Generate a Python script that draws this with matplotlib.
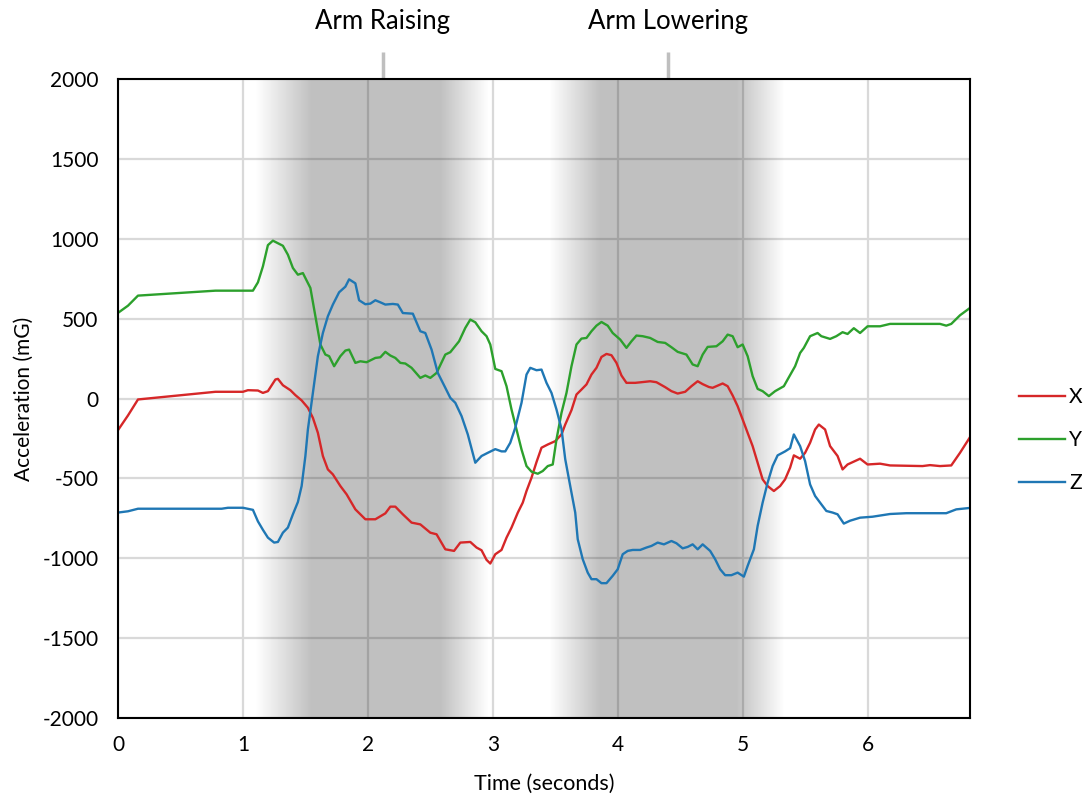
import numpy as np
import matplotlib.pyplot as plt

plt.rcParams['font.family'] = ['Lato', 'DejaVu Sans']
plt.rcParams['font.size'] = 16
plt.rcParams['axes.unicode_minus'] = False

# acceleration data (time in s, acceleration in mG)
x_time = [0, 0.08, 0.16, 0.78, 1.0, 1.04, 1.12, 1.16, 1.2, 1.26,
          1.28, 1.32, 1.38, 1.42, 1.47, 1.52, 1.56, 1.6, 1.64, 1.68,
          1.72, 1.78, 1.83, 1.9, 1.98, 2.06, 2.14, 2.18, 2.22, 2.28,
          2.35, 2.42, 2.5, 2.55, 2.62, 2.69, 2.74, 2.82, 2.87, 2.91,
          2.95, 2.98, 3.02, 3.07, 3.11, 3.15, 3.2, 3.24, 3.27, 3.31,
          3.35, 3.39, 3.44, 3.5, 3.55, 3.58, 3.63, 3.67, 3.71, 3.75,
          3.79, 3.83, 3.87, 3.91, 3.95, 3.99, 4.03, 4.07, 4.14, 4.19,
          4.26, 4.31, 4.38, 4.43, 4.48, 4.54, 4.59, 4.64, 4.68, 4.73,
          4.76, 4.84, 4.88, 4.92, 4.96, 5.0, 5.04, 5.08, 5.12, 5.16,
          5.2, 5.25, 5.3, 5.34, 5.38, 5.41, 5.46, 5.5, 5.54, 5.58,
          5.61, 5.66, 5.7, 5.76, 5.8, 5.84, 5.94, 6.0, 6.1, 6.18,
          6.44, 6.5, 6.58, 6.67, 6.74, 6.82]
x_acc = [-198, -106, -6, 42, 42, 52, 50, 35, 46, 119,
         123, 83, 52, 21, -12, -58, -121, -215, -360, -444,
         -475, -548, -600, -694, -756, -756, -719, -677, -677, -725,
         -777, -788, -840, -850, -944, -954, -902, -898, -933, -950,
         -1010, -1033, -975, -948, -871, -808, -715, -652, -579, -496,
         -398, -308, -288, -267, -225, -163, -73, 25, 56, 88,
         150, 192, 260, 279, 271, 223, 144, 98, 98, 102,
         108, 102, 71, 46, 31, 42, 77, 108, 90, 72,
         67, 94, 77, 19, -48, -131, -215, -298, -402, -506,
         -548, -579, -548, -506, -433, -356, -377, -340, -277, -194,
         -163, -194, -298, -360, -444, -413, -377, -413, -408, -419,
         -423, -417, -423, -419, -340, -242]

y_time = [0, 0.08, 0.16, 0.78, 1.08, 1.12, 1.16, 1.2, 1.24, 1.32,
          1.36, 1.4, 1.44, 1.48, 1.54, 1.58, 1.62, 1.66, 1.69, 1.73,
          1.78, 1.82, 1.85, 1.9, 1.94, 1.99, 2.06, 2.1, 2.14, 2.18,
          2.22, 2.26, 2.3, 2.35, 2.42, 2.46, 2.5, 2.55, 2.62, 2.66,
          2.73, 2.78, 2.82, 2.86, 2.91, 2.95, 2.98, 3.02, 3.07, 3.11,
          3.15, 3.19, 3.23, 3.27, 3.31, 3.36, 3.4, 3.44, 3.48, 3.51,
          3.55, 3.59, 3.63, 3.67, 3.71, 3.75, 3.79, 3.83, 3.87, 3.92,
          3.96, 4.02, 4.07, 4.11, 4.15, 4.2, 4.26, 4.32, 4.38, 4.43,
          4.48, 4.55, 4.6, 4.64, 4.68, 4.72, 4.79, 4.84, 4.88, 4.92,
          4.96, 5.0, 5.04, 5.08, 5.12, 5.16, 5.21, 5.26, 5.33, 5.36,
          5.42, 5.46, 5.49, 5.54, 5.6, 5.63, 5.7, 5.75, 5.8, 5.84,
          5.89, 5.94, 6.0, 6.1, 6.18, 6.58, 6.63, 6.67, 6.74, 6.82]
y_acc = [536, 581, 644, 675, 675, 727, 827, 960, 988, 956,
         900, 817, 775, 785, 692, 515, 338, 275, 265, 202,
         265, 300, 306, 223, 233, 227, 254, 258, 292, 269,
         254, 223, 219, 192, 129, 144, 129, 160, 275, 290,
         358, 442, 494, 477, 421, 390, 338, 185, 171, 77,
         -69, -194, -319, -423, -458, -471, -454, -423, -413, -256,
         -90, 35, 202, 338, 375, 379, 421, 456, 479, 456,
         410, 369, 317, 358, 394, 390, 379, 354, 348, 321,
         292, 275, 213, 202, 275, 323, 327, 358, 400, 390,
         321, 338, 265, 140, 60, 46, 15, 46, 77, 119,
         202, 285, 317, 390, 410, 390, 373, 390, 415, 404,
         440, 410, 452, 452, 467, 467, 456, 467, 521, 567]

z_time = [0, 0.08, 0.16, 0.83, 0.88, 1.0, 1.08, 1.12, 1.16, 1.2,
          1.25, 1.28, 1.32, 1.36, 1.4, 1.44, 1.47, 1.5, 1.52, 1.56,
          1.6, 1.64, 1.68, 1.72, 1.77, 1.82, 1.85, 1.9, 1.93, 1.98,
          2.02, 2.06, 2.1, 2.14, 2.2, 2.24, 2.28, 2.36, 2.42, 2.46,
          2.51, 2.56, 2.62, 2.66, 2.7, 2.75, 2.8, 2.86, 2.91, 2.96,
          3.02, 3.07, 3.1, 3.14, 3.18, 3.23, 3.27, 3.3, 3.35, 3.39,
          3.43, 3.47, 3.51, 3.55, 3.58, 3.62, 3.66, 3.68, 3.72, 3.76,
          3.79, 3.83, 3.87, 3.91, 3.96, 4.0, 4.04, 4.08, 4.12, 4.18,
          4.23, 4.27, 4.32, 4.37, 4.43, 4.47, 4.52, 4.56, 4.6, 4.64,
          4.68, 4.74, 4.78, 4.82, 4.86, 4.91, 4.96, 5.01, 5.04, 5.09,
          5.12, 5.16, 5.2, 5.24, 5.28, 5.34, 5.38, 5.41, 5.46, 5.5,
          5.54, 5.58, 5.62, 5.67, 5.72, 5.76, 5.81, 5.86, 5.94, 6.04,
          6.18, 6.31, 6.63, 6.71, 6.82]
z_acc = [-714, -706, -690, -690, -684, -684, -697, -769, -822, -871,
         -902, -898, -840, -808, -725, -648, -548, -360, -194, 35,
         265, 410, 515, 588, 665, 700, 746, 721, 615, 590,
         594, 615, 602, 588, 592, 588, 535, 531, 421, 410,
         306, 160, 67, 4, -27, -110, -225, -402, -360, -340,
         -317, -331, -331, -277, -183, -27, 150, 192, 177, 181,
         98, 35, -69, -190, -380, -548, -714, -881, -1006, -1090,
         -1131, -1131, -1156, -1156, -1110, -1069, -975, -954, -948, -948,
         -933, -923, -902, -913, -892, -906, -938, -929, -913, -944,
         -913, -954, -1006, -1069, -1106, -1106, -1090, -1115, -1048, -944,
         -798, -652, -527, -423, -356, -331, -311, -225, -298, -392,
         -538, -610, -652, -704, -714, -725, -783, -765, -746, -740,
         -723, -718, -718, -694, -685]

series_names = ['X', 'Y', 'Z']
series_colors = ['#d62728', '#2ca02c', '#1f77b4']

# movement phases: label, marker time, and shading ramp (start, full, end-full, end)
events = ['Arm Raising', 'Arm Lowering']
event_times = [2.12, 4.4]
phase_ramps = [(1.1, 1.55, 2.58, 2.97), (3.45, 3.86, 4.95, 5.34)]

t_max = 6.82

fig = plt.figure(figsize=(10.89, 7.99), dpi=100)
ax = fig.add_axes([118 / 1089, 1 - 718 / 799, 852 / 1089, 639 / 799])

# shaded phases as a translucent black band with soft edges
tt = np.linspace(0, t_max, 2000)
alpha = np.zeros_like(tt)
for a, b, c, d in phase_ramps:
    alpha = np.maximum(alpha, np.interp(tt, [a, b, c, d], [0, 1, 1, 0]))
band = np.zeros((1, len(tt), 4))
band[0, :, 3] = alpha * 0.25
ax.imshow(band, extent=[0, t_max, -2000, 2000], aspect='auto',
          interpolation='bilinear', zorder=1)

for tm, acc, name, col in zip([x_time, y_time, z_time], [x_acc, y_acc, z_acc],
                              series_names, series_colors):
    ax.plot(tm, acc, color=col, lw=1.7, label=name, zorder=3)

ax.set_xlim(0, t_max)
ax.set_ylim(-2000, 2000)
ax.set_xticks(range(0, 7))
ax.set_yticks(range(-2000, 2001, 500))
ax.grid(True, color='#d9d9d9', lw=1.6)
ax.set_axisbelow(True)
ax.tick_params(length=0, labelsize=15)
ax.tick_params(axis='y', pad=14)
ax.tick_params(axis='x', pad=12)
for sp in ax.spines.values():
    sp.set_color('black')
    sp.set_linewidth(1.5)
    sp.set_zorder(4)

ax.set_xlabel('Time (seconds)', fontsize=15.5, labelpad=14)
ax.set_ylabel('Acceleration (mG)', fontsize=15, labelpad=6)

trans = ax.get_xaxis_transform()
for lab, et in zip(events, event_times):
    ax.plot([et, et], [1.0, 1.042], transform=trans, color='#bfbfbf', lw=2.5,
            clip_on=False, solid_capstyle='butt')
    ax.text(et, 1.09, lab, transform=trans, ha='center', va='center', fontsize=18.5)

fig.legend(loc='center left', bbox_to_anchor=(1019 / 1089, 1 - 440 / 799),
           frameon=False, fontsize=15, handlelength=2.2, handletextpad=0.2,
           labelspacing=1.1, borderpad=0, borderaxespad=0)

plt.savefig('out.png', dpi=100)
